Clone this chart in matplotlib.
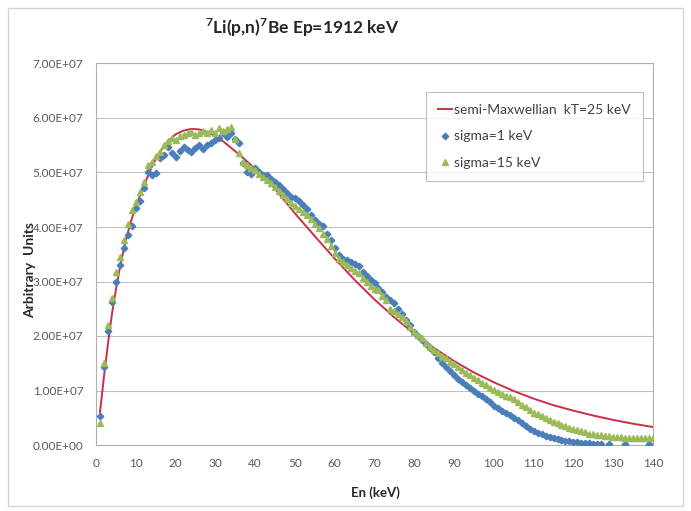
import numpy as np
import matplotlib
matplotlib.use("Agg")
import matplotlib.pyplot as plt
from matplotlib.patches import Rectangle
from matplotlib.ticker import FuncFormatter, MultipleLocator

plt.rcParams['font.family'] = ['Lato', 'DejaVu Sans']
plt.rcParams['mathtext.fontset'] = 'custom'
plt.rcParams['mathtext.rm'] = 'Lato'
plt.rcParams['mathtext.bf'] = 'Lato:bold'

# semi-Maxwellian kT=25 keV (values in units of 1e7)
maxw_e = [1, 2, 3, 4, 5, 6, 7, 8, 9, 10, 12, 14, 16, 18, 20, 22, 24, 26, 28, 30,
          32, 34, 36, 38, 40, 42, 45, 50, 55, 60, 65, 70, 75, 80, 85, 90, 95,
          100, 105, 110, 115, 120, 125, 130, 135, 140]
maxw_y = [0.60, 1.25, 1.85, 2.40, 2.85, 3.25, 3.60, 3.90, 4.15, 4.38, 4.75, 5.10,
          5.38, 5.57, 5.70, 5.77, 5.80, 5.79, 5.74, 5.67, 5.57, 5.45, 5.33, 5.20,
          5.07, 4.93, 4.70, 4.25, 3.83, 3.42, 3.03, 2.67, 2.34, 2.04, 1.78, 1.54,
          1.33, 1.15, 0.99, 0.85, 0.73, 0.63, 0.54, 0.46, 0.39, 0.33]

# sigma = 1 keV
s1_e = list(range(1, 128)) + [129, 133, 139]
s1_y = [0.53, 1.44, 2.10, 2.62, 3.00, 3.30, 3.62, 3.85, 4.01, 4.34,
        4.47, 4.71, 5.01, 4.95, 4.99, 5.26, 5.32, 5.47, 5.36, 5.29,
        5.40, 5.47, 5.42, 5.38, 5.45, 5.50, 5.44, 5.50, 5.55, 5.60,
        5.64, 5.72, 5.66, 5.72, 5.62, 5.54, 5.17, 5.01, 4.98, 5.08,
        5.00, 4.95, 4.95, 4.88, 4.83, 4.77, 4.70, 4.62, 4.55, 4.53,
        4.47, 4.40, 4.33, 4.22, 4.12, 4.06, 4.02, 3.88, 3.76, 3.62,
        3.48, 3.42, 3.40, 3.36, 3.32, 3.28, 3.18, 3.10, 3.02, 2.97,
        2.88, 2.80, 2.72, 2.66, 2.60, 2.50, 2.40, 2.30, 2.20, 2.08,
        2.00, 1.93, 1.86, 1.78, 1.70, 1.60, 1.50, 1.43, 1.35, 1.28,
        1.22, 1.16, 1.10, 1.04, 0.99, 0.94, 0.89, 0.84, 0.78, 0.72,
        0.68, 0.63, 0.59, 0.55, 0.50, 0.46, 0.40, 0.34, 0.29, 0.25,
        0.22, 0.20, 0.17, 0.15, 0.13, 0.11, 0.09, 0.08, 0.07, 0.06,
        0.05, 0.045, 0.04, 0.03, 0.025, 0.02, 0.02,
        0.02, 0.015, 0.015]

# sigma = 15 keV
s15_e = list(range(1, 141))
s15_y = [0.40, 1.50, 2.20, 2.70, 3.18, 3.45, 3.76, 4.05, 4.31, 4.46,
         4.65, 4.83, 5.14, 5.20, 5.30, 5.38, 5.50, 5.57, 5.63, 5.60,
         5.67, 5.69, 5.72, 5.75, 5.68, 5.72, 5.76, 5.73, 5.78, 5.72,
         5.81, 5.76, 5.79, 5.84, 5.62, 5.35, 5.20, 5.14, 5.08, 5.05,
         4.98, 4.92, 4.86, 4.80, 4.73, 4.66, 4.58, 4.52, 4.44, 4.38,
         4.33, 4.27, 4.22, 4.15, 4.06, 3.98, 3.88, 3.78, 3.66, 3.52,
         3.41, 3.35, 3.30, 3.24, 3.19, 3.15, 3.06, 2.99, 2.92, 2.86,
         2.84, 2.74, 2.66, 2.50, 2.45, 2.40, 2.35, 2.27, 2.17, 2.08,
         2.02, 1.96, 1.88, 1.80, 1.75, 1.69, 1.63, 1.59, 1.53, 1.48,
         1.43, 1.38, 1.33, 1.28, 1.23, 1.19, 1.14, 1.10, 1.05, 1.01,
         0.98, 0.94, 0.90, 0.88, 0.84, 0.78, 0.74, 0.69, 0.64, 0.59,
         0.56, 0.53, 0.49, 0.46, 0.43, 0.40, 0.37, 0.34, 0.31, 0.29,
         0.27, 0.25, 0.23, 0.21, 0.20, 0.19, 0.18, 0.17, 0.16, 0.155,
         0.15, 0.14, 0.135, 0.13, 0.125, 0.12, 0.12, 0.12, 0.12, 0.12]

scale = 1e7

fig = plt.figure(figsize=(6.91, 5.11), dpi=100)
ax = fig.add_axes([96 / 691, 1 - 445 / 511, (653 - 96) / 691, (445 - 63.5) / 511])

# outer chart frame
fig.patches.append(Rectangle((0.012, 0.010), 0.976, 0.975, transform=fig.transFigure,
                             fill=False, edgecolor='#d4d4d4', linewidth=1.0))

ax.plot(maxw_e, np.array(maxw_y) * scale, color='#c8304a', linewidth=1.4,
        label='semi-Maxwellian  kT=25 keV', zorder=3)
ax.plot(s1_e, np.array(s1_y) * scale, linestyle='none', marker='D', markersize=3.3,
        color='#4a7ebb', label='sigma=1 keV', zorder=4)
ax.plot(s15_e, np.array(s15_y) * scale, linestyle='none', marker='^', markersize=5,
        color='#9bbb59', label='sigma=15 keV', zorder=5)

ax.set_xlim(0, 140)
ax.set_ylim(0, 7e7)
ax.xaxis.set_major_locator(MultipleLocator(10))
ax.yaxis.set_major_locator(MultipleLocator(1e7))
ax.yaxis.set_major_formatter(FuncFormatter(lambda v, p: f"{v:.2E}"))
ax.tick_params(length=0, labelsize=8.5, labelcolor='#595959', pad=9)
ax.grid(axis='y', color='#c0c0c0', linewidth=0.8)
ax.set_axisbelow(True)
for s in ax.spines.values():
    s.set_color('#b0b0b0')
    s.set_linewidth(0.8)

fig.text(302 / 691, 1 - 28 / 511, r'$^{\mathbf{7}}$Li(p,n)$^{\mathbf{7}}$Be Ep=1912 keV',
         ha='center', va='center', fontsize=12.5, fontweight='bold', color='#262626')
fig.text(30 / 691, 1 - 270 / 511, 'Arbitrary  Units', rotation=90, ha='center',
         va='center', fontsize=10, fontweight='bold', color='#262626')
fig.text(375 / 691, 1 - 493 / 511, 'En (keV)', ha='center', va='center',
         fontsize=9.5, fontweight='bold', color='#262626')

leg = ax.legend(loc='upper left', bbox_to_anchor=(426 / 691, 1 - 92 / 511),
                bbox_transform=fig.transFigure, fontsize=10, frameon=True,
                fancybox=False, edgecolor='#b0b0b0', handlelength=1.0,
                handletextpad=0.2, labelspacing=1.05, borderpad=0.85,
                borderaxespad=0)
leg.get_frame().set_linewidth(0.8)
for t in leg.get_texts():
    t.set_color('#404040')

fig.savefig('out.png', dpi=100)
